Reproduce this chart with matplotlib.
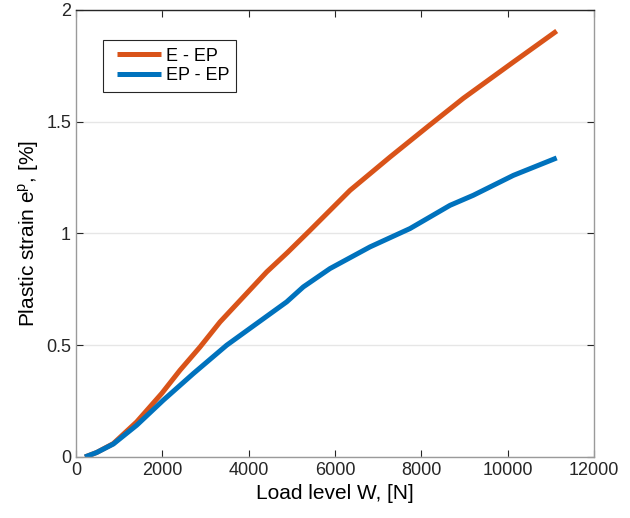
import numpy as np
import matplotlib.pyplot as plt
from matplotlib.legend_handler import HandlerLine2D

# load level [N] and plastic strain [%]
w_e = [208, 479, 865, 1406, 1985, 2409, 2873, 3336, 3877, 4418, 4900, 5421,
       6348, 7274, 8160, 8973, 10131, 11135]
ep_e = [0.0, 0.02, 0.06, 0.157, 0.284, 0.388, 0.492, 0.604, 0.716, 0.828, 0.915, 1.014,
        1.193, 1.342, 1.48, 1.605, 1.767, 1.906]

w_ep = [208, 479, 865, 1406, 2022, 2717, 3490, 4185, 4881, 5266, 5884, 6811,
        7737, 8664, 9204, 10131, 11135]
ep_ep = [0.0, 0.02, 0.058, 0.142, 0.254, 0.373, 0.5, 0.597, 0.694, 0.761, 0.843, 0.94,
         1.022, 1.126, 1.171, 1.26, 1.338]

x_ticks = [0, 2000, 4000, 6000, 8000, 10000, 12000]
y_ticks = [0, 0.5, 1, 1.5, 2]
y_tick_labels = ['0', '0.5', '1', '1.5', '2']

plt.rcParams['font.family'] = ['Liberation Sans', 'DejaVu Sans']
plt.rcParams['mathtext.fontset'] = 'custom'
plt.rcParams['mathtext.rm'] = 'Liberation Sans'

fig = plt.figure(figsize=(6.3, 5.18), dpi=100)
ax = fig.add_axes([0.1206, 0.1178, 0.8223, 0.8629])

ax.plot(w_e, ep_e, color='#D95319', lw=3.6, label='E - EP', solid_capstyle='butt')
ax.plot(w_ep, ep_ep, color='#0072BD', lw=3.6, label='EP - EP', solid_capstyle='butt')

ax.set_xlim(0, 12000)
ax.set_ylim(0, 2)
ax.set_xticks(x_ticks)
ax.set_xticklabels([str(t) for t in x_ticks])
ax.set_yticks(y_ticks)
ax.set_yticklabels(y_tick_labels)
ax.yaxis.grid(True, color='#e6e6e6', lw=1)
ax.set_axisbelow(True)
ax.tick_params(direction='in', top=True, right=True, length=5, width=0.8,
               colors='#262626', labelsize=13, labelcolor='#262626')

for side in ['left', 'bottom', 'right']:
    ax.spines[side].set_color('#9a9a9a')
ax.spines['top'].set_color('#262626')
for s in ax.spines.values():
    s.set_linewidth(1)

ax.set_xlabel('Load level W, [N]', fontsize=15, color='#000000')
ax.set_ylabel('Plastic strain e$^{\\mathregular{p}}$, [%]', fontsize=15, color='#000000')

leg = ax.legend(loc='upper left', bbox_to_anchor=(0.052, 0.932), borderaxespad=0,
                fontsize=13, fancybox=False, edgecolor='#262626', framealpha=1,
                handlelength=2.83, handletextpad=0.25, borderpad=0.4, labelspacing=0.15,
                handler_map={plt.Line2D: HandlerLine2D(xpad=0.39)})
leg.get_frame().set_linewidth(0.8)

plt.savefig('out.png', dpi=100)
